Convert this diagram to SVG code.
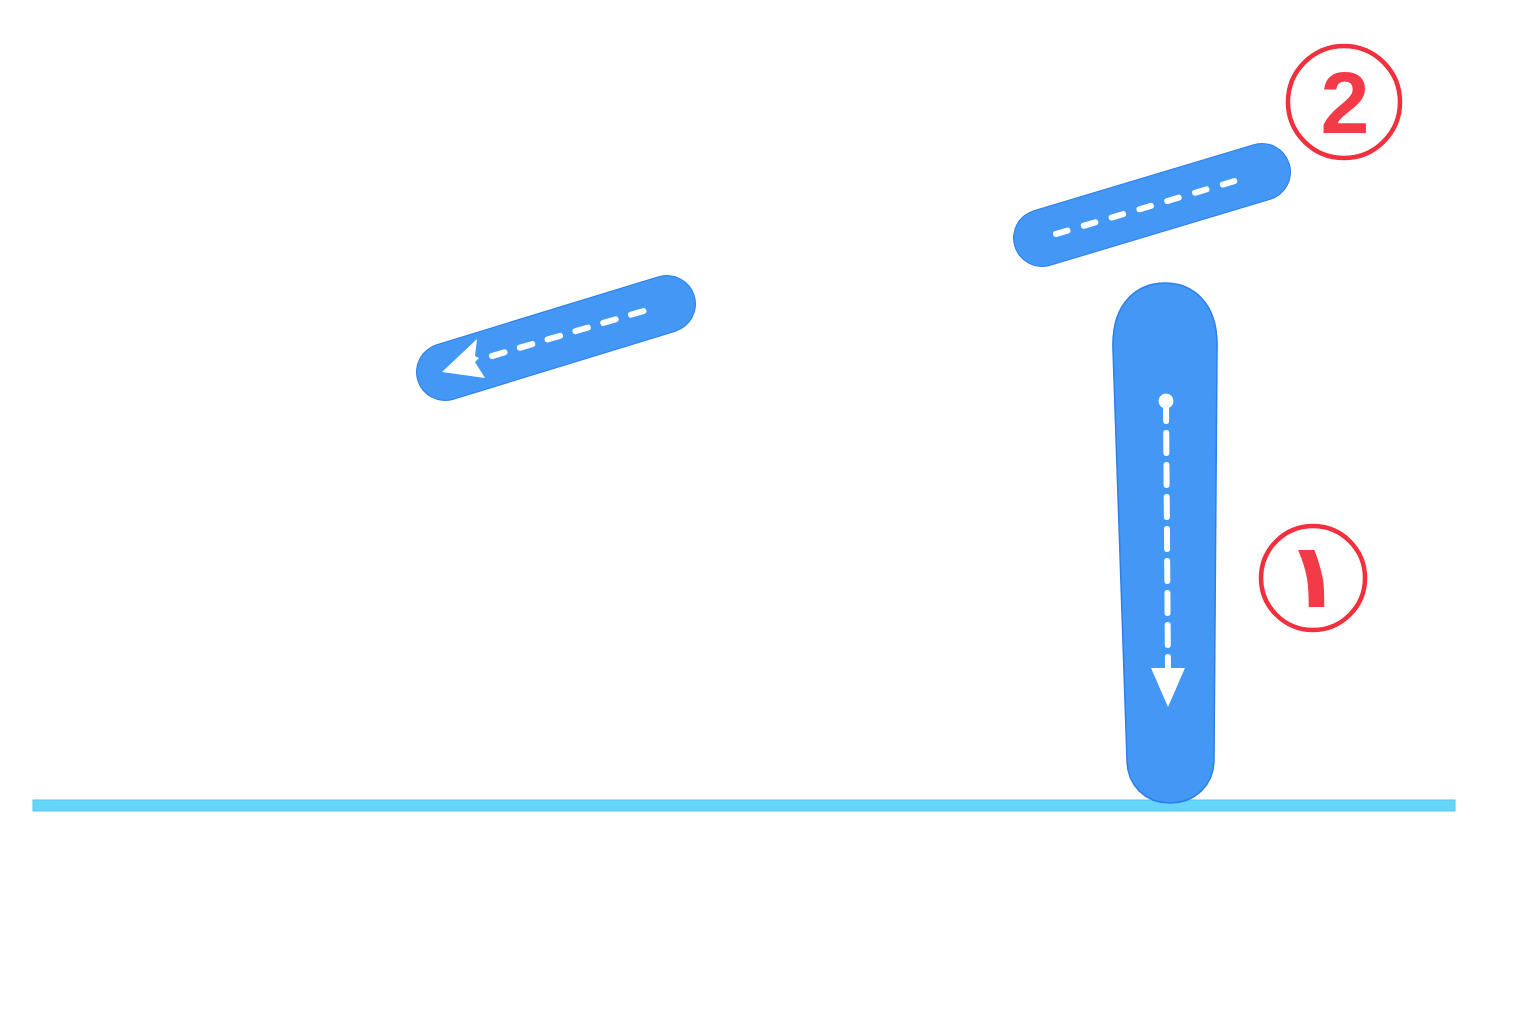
<svg xmlns="http://www.w3.org/2000/svg" width="1536" height="1024" viewBox="0 0 1536 1024">
<style>
.bar{fill:none;stroke:#2F7FEA;stroke-linecap:round}
.barIn{fill:none;stroke:#4397F5;stroke-linecap:round}
.dash{fill:none;stroke:#ffffff;stroke-width:6;stroke-linecap:round}
.badge{fill:#ffffff;stroke:#F0303C;stroke-width:4.5}
.num{fill:#F23A48;font-weight:bold;text-anchor:middle}
.head{fill:#ffffff}
</style>
<rect width="1536" height="1024" fill="#ffffff"/>
<g id="ground">
<rect x="33" y="800" width="1422" height="11" fill="#66D5FA" stroke="#4CC7F2" stroke-width="1"/>
</g>
<g id="stroke-left">
<line class="bar" x1="445" y1="372" x2="667" y2="304" stroke-width="58"/>
<line class="barIn" x1="445" y1="372" x2="667" y2="304" stroke-width="56"/>
</g>
<g id="stroke-top">
<line class="bar" x1="1042" y1="238" x2="1262" y2="172" stroke-width="58"/>
<line class="barIn" x1="1042" y1="238" x2="1262" y2="172" stroke-width="56"/>
</g>
<g id="stroke-vertical">
<path d="M1113,350 C1111,300 1140,283 1165,283 C1190,283 1219,300 1217,350 L1214,760 C1214,785 1195,803 1170,803 C1145,803 1127,785 1127,760 Z" fill="#4397F5" stroke="#2F7FEA" stroke-width="1.5"/>
</g>
<g id="connectors">
<line class="dash" x1="492" y1="356" x2="647" y2="310" stroke-dasharray="13,16"/>
<path class="head" d="M442,372 L477,339 L475,356 L479,358 L475,362 L485,378 Z"/>
<line class="dash" x1="1056" y1="234" x2="1238" y2="180" stroke-dasharray="12,17"/>
<circle class="head" cx="1166" cy="401" r="7.5"/>
<line class="dash" x1="1166" y1="401" x2="1168" y2="672" stroke-dasharray="20,12" stroke-width="5.5" stroke-linecap="butt"/>
<path class="head" d="M1151,668 L1185,668 L1168,707 Z"/>
</g>
<g id="badge-1">
<circle class="badge" cx="1313" cy="578" r="52"/>
<text class="num" x="1313" y="607" font-family="DejaVu Sans, sans-serif" font-size="90">١</text>
</g>
<g id="badge-2">
<circle class="badge" cx="1344" cy="102" r="56"/>
<text class="num" x="1345" y="133" font-family="Liberation Sans, Arial, sans-serif" font-size="88">2</text>
</g>
</svg>
